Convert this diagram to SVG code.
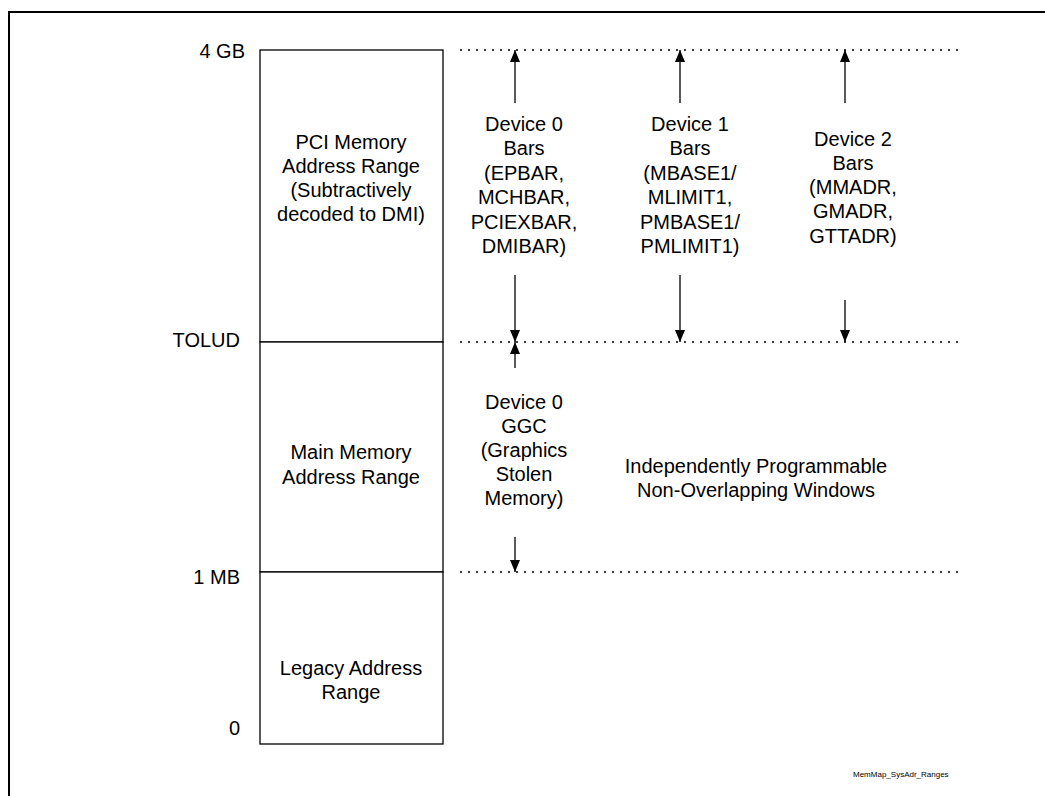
<svg xmlns="http://www.w3.org/2000/svg" width="1045" height="796" viewBox="0 0 1045 796">
  <style>
    text { font-family: "Liberation Sans", Arial, sans-serif; font-size: 20px; fill: #000; }
    .c { text-anchor: middle; }
    .r { text-anchor: end; }
    .box { fill: #fff; stroke: #000; stroke-width: 1.3; }
    .dot { stroke: #000; stroke-width: 1.4; stroke-dasharray: 2 6; fill: none; }
    .arr { stroke: #000; stroke-width: 1.3; fill: none; marker-end: url(#head); }
    .tag { font-size: 8px; }
  </style>
  <defs>
    <marker id="head" viewBox="0 0 12 10" refX="12" refY="5" markerWidth="12" markerHeight="10" markerUnits="userSpaceOnUse" orient="auto">
      <path d="M0,0 L12,5 L0,10 Z" fill="#000"/>
    </marker>
  </defs>

  <rect width="1045" height="796" fill="#fff"/>

  <!-- frame -->
  <path d="M9,796 V12 H1045" fill="none" stroke="#000" stroke-width="2"/>

  <!-- address ticks -->
  <g id="ticks">
    <text class="r" x="245" y="58">4 GB</text>
    <text class="r" x="240" y="347">TOLUD</text>
    <text class="r" x="240" y="584">1 MB</text>
    <text class="r" x="240" y="735">0</text>
  </g>

  <!-- memory column -->
  <g id="pci-range">
    <rect class="box" x="260" y="50" width="183" height="292"/>
    <text class="c" x="351" y="149">PCI Memory</text>
    <text class="c" x="351" y="173">Address Range</text>
    <text class="c" x="351" y="197">(Subtractively</text>
    <text class="c" x="351" y="221">decoded to DMI)</text>
  </g>
  <g id="main-range">
    <rect class="box" x="260" y="342" width="183" height="230"/>
    <text class="c" x="351" y="459">Main Memory</text>
    <text class="c" x="351" y="484">Address Range</text>
  </g>
  <g id="legacy-range">
    <rect class="box" x="260" y="572" width="183" height="172"/>
    <text class="c" x="351" y="675">Legacy Address</text>
    <text class="c" x="351" y="699">Range</text>
  </g>

  <!-- boundary guides and range arrows -->
  <g id="connectors">
    <line class="dot" x1="460" y1="50" x2="958" y2="50"/>
    <line class="dot" x1="460" y1="342" x2="958" y2="342"/>
    <line class="dot" x1="460" y1="572" x2="958" y2="572"/>

    <line class="arr" x1="515" y1="103" x2="515" y2="50"/>
    <line class="arr" x1="515" y1="275" x2="515" y2="342"/>
    <line class="arr" x1="680" y1="103" x2="680" y2="50"/>
    <line class="arr" x1="680" y1="275" x2="680" y2="342"/>
    <line class="arr" x1="845" y1="103" x2="845" y2="50"/>
    <line class="arr" x1="845" y1="300" x2="845" y2="342"/>

    <line class="arr" x1="515" y1="368" x2="515" y2="342"/>
    <line class="arr" x1="515" y1="537" x2="515" y2="572"/>
  </g>

  <g id="device0-bars">
    <text class="c" x="524" y="131">Device 0</text>
    <text class="c" x="524" y="155">Bars</text>
    <text class="c" x="524" y="180">(EPBAR,</text>
    <text class="c" x="524" y="204">MCHBAR,</text>
    <text class="c" x="524" y="229">PCIEXBAR,</text>
    <text class="c" x="524" y="253">DMIBAR)</text>
  </g>
  <g id="device1-bars">
    <text class="c" x="690" y="131">Device 1</text>
    <text class="c" x="690" y="155">Bars</text>
    <text class="c" x="690" y="180">(MBASE1/</text>
    <text class="c" x="690" y="204">MLIMIT1,</text>
    <text class="c" x="690" y="229">PMBASE1/</text>
    <text class="c" x="690" y="253">PMLIMIT1)</text>
  </g>
  <g id="device2-bars">
    <text class="c" x="853" y="146">Device 2</text>
    <text class="c" x="853" y="170">Bars</text>
    <text class="c" x="853" y="194">(MMADR,</text>
    <text class="c" x="853" y="218">GMADR,</text>
    <text class="c" x="853" y="243">GTTADR)</text>
  </g>
  <g id="device0-ggc">
    <text class="c" x="524" y="409">Device 0</text>
    <text class="c" x="524" y="433">GGC</text>
    <text class="c" x="524" y="457">(Graphics</text>
    <text class="c" x="524" y="481">Stolen</text>
    <text class="c" x="524" y="505">Memory)</text>
  </g>
  <g id="windows-note">
    <text class="c" x="756" y="473">Independently Programmable</text>
    <text class="c" x="756" y="497">Non-Overlapping Windows</text>
  </g>

  <text class="tag" x="853" y="777">MemMap_SysAdr_Ranges</text>
</svg>
